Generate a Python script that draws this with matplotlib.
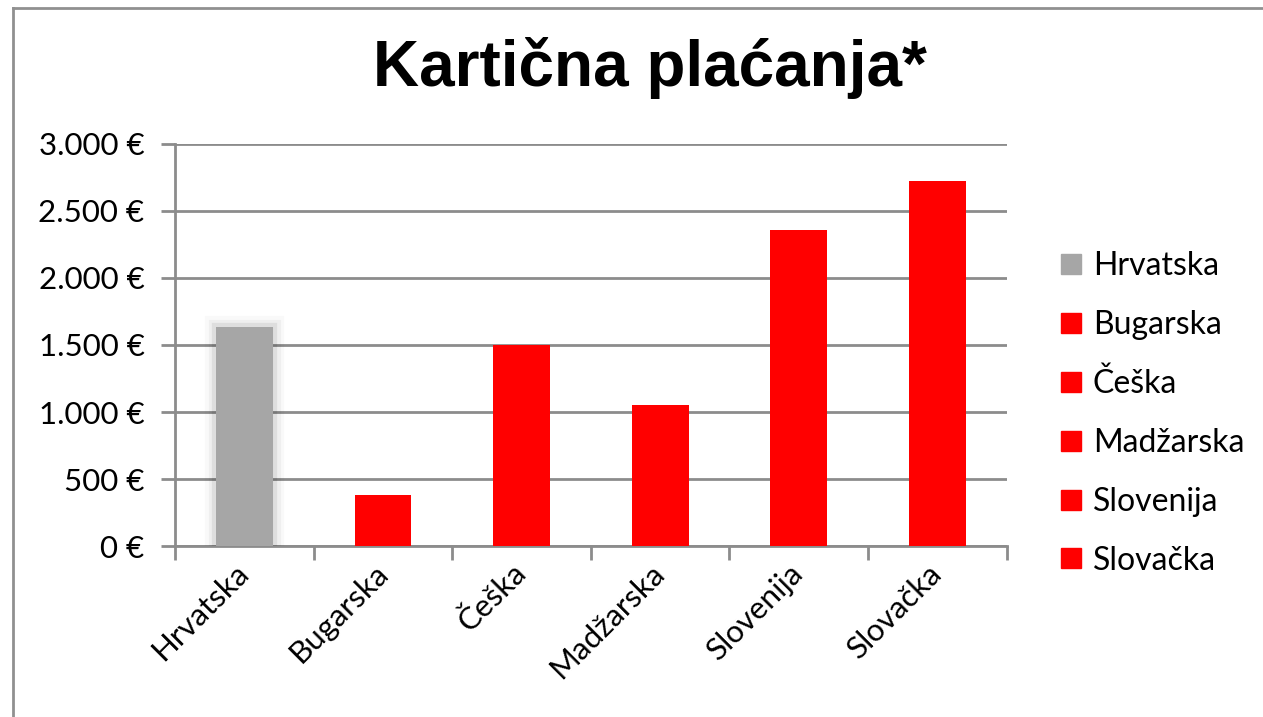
import matplotlib
matplotlib.use("Agg")
import matplotlib.pyplot as plt
import matplotlib.patheffects as pe
import matplotlib.transforms as mtransforms
from matplotlib.lines import Line2D
import numpy as np

categories = ["Hrvatska", "Bugarska", "Češka", "Madžarska", "Slovenija", "Slovačka"]
values = [1635, 385, 1500, 1052, 2360, 2722]
bar_colors = ["#a6a6a6", "#ff0000", "#ff0000", "#ff0000", "#ff0000", "#ff0000"]
yticks = [0, 500, 1000, 1500, 2000, 2500, 3000]
ytick_labels = ["0 €", "500 €", "1.000 €", "1.500 €", "2.000 €", "2.500 €", "3.000 €"]
title = "Kartična plaćanja*"

LABEL_FONT = ["Lato", "DejaVu Sans"]
GRID = "#8c8c8c"

fig = plt.figure(figsize=(12.63, 7.17), dpi=100)
ax = fig.add_axes([175/1263, 1-546.3/717, (1006.7-175)/1263, (546.3-143.7)/717])

x = np.arange(len(categories))
bars = ax.bar(x, values, width=0.41, color=bar_colors, zorder=3, label="_nolegend_")
# soft glow around the gray bar
bars[0].set_path_effects([
    pe.Stroke(linewidth=16, foreground="black", alpha=0.025),
    pe.Stroke(linewidth=11, foreground="black", alpha=0.04),
    pe.Stroke(linewidth=6, foreground="black", alpha=0.07),
    pe.Normal(),
])

ax.set_xlim(-0.5, len(categories) - 0.5)
ax.set_ylim(0, 3000)
ax.set_yticks(yticks)
ax.set_yticklabels(ytick_labels, fontsize=22.5, family=LABEL_FONT)
ax.yaxis.grid(True, color=GRID, linewidth=2, zorder=0)
ax.set_axisbelow(True)

ax.set_xticks(np.arange(-0.5, len(categories)), minor=False)
ax.set_xticklabels([])
ax.set_xticks(x, minor=True)
ax.set_xticklabels(categories, minor=True, rotation=45, ha="right", va="center",
                   rotation_mode="anchor", fontsize=22.5, family=LABEL_FONT)
shift = mtransforms.ScaledTranslation(-6/100, 0, fig.dpi_scale_trans)
for lbl in ax.get_xticklabels(minor=True):
    lbl.set_transform(lbl.get_transform() + shift)
ax.tick_params(axis="x", which="major", length=10, width=2, color=GRID, direction="out")
ax.tick_params(axis="x", which="minor", length=0, pad=16)
ax.tick_params(axis="y", length=10, width=2, color=GRID, pad=12)

for s in ["top", "right"]:
    ax.spines[s].set_visible(False)
for s in ["left", "bottom"]:
    ax.spines[s].set_color(GRID)
    ax.spines[s].set_linewidth(2)

handles = [Line2D([], [], marker="s", linestyle="none", markersize=14,
                  markerfacecolor=c, markeredgecolor=c) for c in bar_colors]
leg = fig.legend(handles, categories, loc="center left",
                 bbox_to_anchor=(1057/1263, 1-413.5/717), frameon=False,
                 prop={"family": LABEL_FONT, "size": 23},
                 labelspacing=0.9, handletextpad=0.22, handlelength=0.9,
                 borderpad=0, borderaxespad=0)

fig.text(650/1263, 1-68/717, title, ha="center", va="center",
         fontsize=46, fontweight="bold", family=["Liberation Sans", "DejaVu Sans"])

# chart frame (left and top edges visible)
fig.add_artist(Line2D([13/1263, 13/1263], [0, 1-8/717], transform=fig.transFigure,
                      color="#909090", linewidth=2))
fig.add_artist(Line2D([13/1263, 1], [1-8/717, 1-8/717], transform=fig.transFigure,
                      color="#909090", linewidth=2))

fig.savefig("out.png", dpi=100)
